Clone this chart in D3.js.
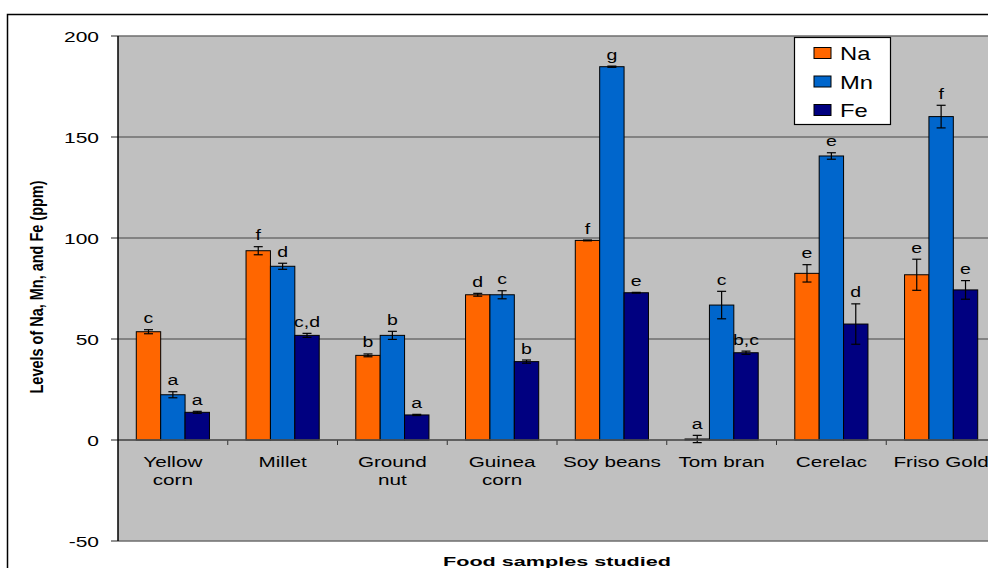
<!DOCTYPE html>
<html>
<head>
<meta charset="utf-8">
<script src="https://cdn.jsdelivr.net/npm/d3@7"></script>
<style>
  body { margin: 0; background: #fff; }
  svg { display: block; font-family: "Liberation Sans", Arial, sans-serif; }
</style>
</head>
<body>
<script>
const categories = [["Yellow", "corn"], ["Millet"], ["Ground", "nut"], ["Guinea", "corn"], ["Soy beans"], ["Tom bran"], ["Cerelac"], ["Friso Gold"]]
const series = ["Na", "Mn", "Fe"]
const colors = ["#ff6600", "#0066cc", "#000080"]

const naValues = [53.6, 93.7, 41.9, 71.9, 98.8, 0.5, 82.5, 81.8]
const mnValues = [22.4, 86.0, 51.8, 71.9, 184.8, 66.8, 140.6, 160.1]
const feValues = [13.7, 51.8, 12.4, 38.8, 72.9, 43.2, 57.4, 74.3]

const naErrors = [1.0, 2.0, 0.7, 0.7, 0.2, 1.8, 4.3, 7.7]
const mnErrors = [1.5, 1.5, 2.0, 2.0, 0.3, 6.8, 1.6, 5.6]
const feErrors = [0.5, 1.0, 0.3, 0.8, 0.2, 0.8, 10.0, 4.6]

const naLetters = ["c", "f", "b", "d", "f", "a", "e", "e"]
const mnLetters = ["a", "d", "b", "c", "g", "c", "e", "f"]
const feLetters = ["a", "c,d", "a", "b", "e", "b,c", "d", "e"]

const yTicks = [-50, 0, 50, 100, 150, 200]

const values = [naValues, mnValues, feValues]
const errors = [naErrors, mnErrors, feErrors]
const letters = [naLetters, mnLetters, feLetters]

const width = 988, height = 568
const plot = { left: 118, top: 36, right: 996, bottom: 541 }
const sx = 1.38   // the source picture is stretched sideways

const svg = d3.select('body').append('svg')
  .attr('width', width)
  .attr('height', height)

// outer frame, runs off the right and bottom edges
svg.append('rect')
  .attr('x', 7.5).attr('y', 14.5)
  .attr('width', 1000).attr('height', 600)
  .attr('fill', '#fff')
  .attr('stroke', '#000')
  .attr('stroke-width', 1.5)

const y = d3.scaleLinear().domain([-50, 200]).range([plot.bottom, plot.top])
const x = d3.scaleBand().domain(d3.range(categories.length)).range([plot.left, plot.right])
const xs = d3.scaleBand().domain(series).range([0, x.bandwidth()]).paddingInner(0).paddingOuter(0.75)

function stretchedText(g, tx, ty, str, size, opts = {}) {
  return g.append('text')
    .attr('transform', `translate(${tx}, ${ty}) scale(${opts.scale || sx}, 1)`)
    .attr('text-anchor', opts.anchor || 'middle')
    .attr('font-size', size)
    .attr('font-weight', opts.weight || 'normal')
    .attr('fill', '#000')
    .text(str)
}

svg.append('rect')
  .attr('x', plot.left).attr('y', plot.top)
  .attr('width', plot.right - plot.left).attr('height', plot.bottom - plot.top)
  .attr('fill', '#c0c0c0')

// gridlines
svg.append('g').selectAll('line')
  .data(yTicks)
  .join('line')
    .attr('x1', plot.left - 7).attr('x2', plot.right)
    .attr('y1', d => y(d)).attr('y2', d => y(d))
    .attr('stroke', '#6e6e6e')
    .attr('stroke-width', 1.3)

// y tick labels
yTicks.forEach(t => stretchedText(svg, 99, y(t) + 5.5, t, 15, { anchor: 'end', scale: 1.4 }))

// category ticks on the zero line
svg.append('g').selectAll('line')
  .data(d3.range(1, categories.length + 1))
  .join('line')
    .attr('x1', d => plot.left + d * x.step()).attr('x2', d => plot.left + d * x.step())
    .attr('y1', y(0)).attr('y2', y(0) + 5)
    .attr('stroke', '#333')

// category labels
categories.forEach((lines, i) => {
  lines.forEach((ln, j) => {
    stretchedText(svg, x(i) + x.bandwidth() / 2, 466.5 + j * 18.5, ln, 15)
  })
})

// bars
const groups = svg.append('g').selectAll('g')
  .data(d3.range(categories.length))
  .join('g')
    .attr('transform', i => `translate(${x(i)}, 0)`)

series.forEach((s, k) => {
  groups.append('rect')
    .attr('x', xs(s))
    .attr('y', i => y(values[k][i]))
    .attr('width', xs.bandwidth())
    .attr('height', i => y(0) - y(values[k][i]))
    .attr('fill', colors[k])
    .attr('stroke', '#000')
    .attr('stroke-width', 1)
})

// error bars and letters
series.forEach((s, k) => {
  const cx = xs(s) + xs.bandwidth() / 2
  groups.each(function(i) {
    const g = d3.select(this)
    const v = values[k][i], e = errors[k][i]
    g.append('line')
      .attr('x1', cx).attr('x2', cx)
      .attr('y1', y(v + e)).attr('y2', y(v - e))
      .attr('stroke', '#000').attr('stroke-width', 1.2)
    ;[v + e, v - e].forEach(c => {
      g.append('line')
        .attr('x1', cx - 4.5).attr('x2', cx + 4.5)
        .attr('y1', y(c)).attr('y2', y(c))
        .attr('stroke', '#000').attr('stroke-width', 1.2)
    })
    stretchedText(g, cx, y(v + e) - 6.5, letters[k][i], 15, { scale: 1.3 })
  })
})

// axes lines
svg.append('line')
  .attr('x1', plot.left).attr('x2', plot.right)
  .attr('y1', y(0)).attr('y2', y(0))
  .attr('stroke', '#555').attr('stroke-width', 1.3)
svg.append('line')
  .attr('x1', plot.left).attr('x2', plot.left)
  .attr('y1', plot.top).attr('y2', plot.bottom)
  .attr('stroke', '#000').attr('stroke-width', 1.5)

// axis titles
svg.append('text')
  .attr('transform', `translate(43, 287) rotate(-90) scale(1, 1.3)`)
  .attr('text-anchor', 'middle')
  .attr('font-size', 14)
  .attr('font-weight', 'bold')
  .attr('textLength', 213)
  .attr('lengthAdjust', 'spacingAndGlyphs')
  .text('Levels of Na, Mn, and Fe (ppm)')

svg.append('text')
  .attr('x', 557).attr('y', 566)
  .attr('text-anchor', 'middle')
  .attr('font-size', 13)
  .attr('font-weight', 'bold')
  .attr('textLength', 228)
  .attr('lengthAdjust', 'spacingAndGlyphs')
  .text('Food samples studied')

// legend
const legend = svg.append('g').attr('transform', 'translate(794, 37)')
legend.append('rect')
  .attr('x', 0.5).attr('y', 0.5)
  .attr('width', 96).attr('height', 87)
  .attr('fill', '#fff')
  .attr('stroke', '#000')
  .attr('stroke-width', 1.2)

series.forEach((s, k) => {
  const cy = 16 + k * 28.5
  legend.append('rect')
    .attr('x', 20).attr('y', cy - 5.5)
    .attr('width', 17).attr('height', 11)
    .attr('fill', colors[k])
    .attr('stroke', '#000')
  stretchedText(legend, 46, cy + 7, s, 19, { anchor: 'start', scale: 1.25 })
})
</script>
</body>
</html>
